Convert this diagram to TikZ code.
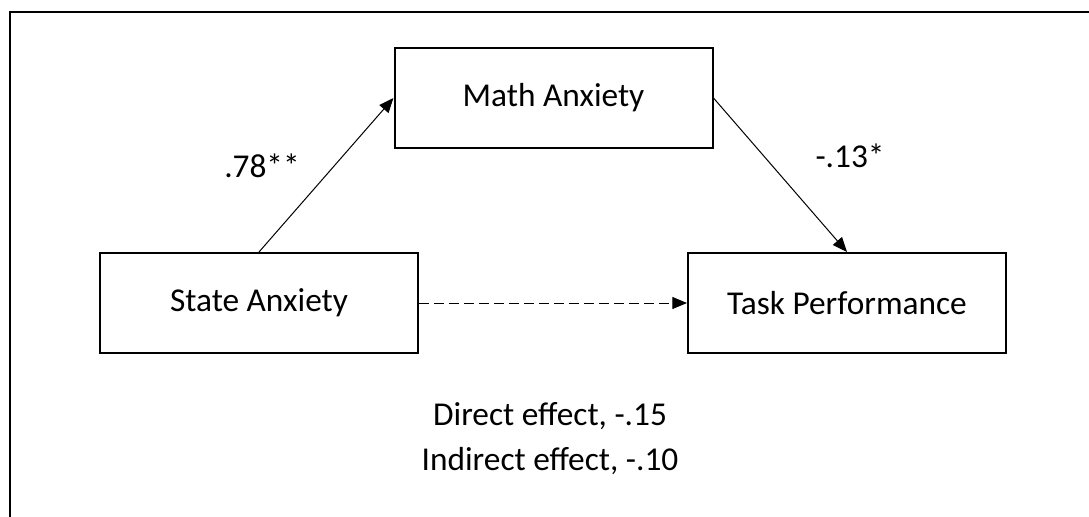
\documentclass[tikz,border=0pt]{standalone}
\usepackage{fontspec}
\setmainfont{Carlito}
\usetikzlibrary{arrows.meta}

\begin{document}
\begin{tikzpicture}[x=0.75pt,y=-0.75pt,>={Triangle[length=11pt,width=9pt]},
	every node/.style={font=\fontsize{25}{30}\selectfont}]
	\tikzstyle{var} = [rectangle,draw,line width=1.5pt,minimum width=238.5pt,minimum height=75pt,inner sep=0pt]
	\tikzstyle{lbl} = [inner sep=0pt,anchor=base]
	
	\useasboundingbox (0,0) rectangle (1089,517);
	\draw[line width=1.5pt] (9.5,517) -- (9.5,12) -- (1089,12);
	
	\node[var](ma) at (553.5,98){Math Anxiety};
	\node[var](sa) at (259,303){State Anxiety};
	\node[var](tp) at (847,303){Task Performance};
	
	\path[->,line width=0.75pt] (sa.north) edge (ma.west)
	(ma.east) edge (tp.north);
	\path[->,line width=0.75pt,dash pattern=on 7.5pt off 3.75pt] (sa.east) edge (tp.west);
	
	\node[lbl](a) at (262,177) {.78**};
	\node[lbl](b) at (850,167) {-.13*};
	\node[lbl](de) at (550,425) {Direct effect, -.15};
	\node[lbl](ie) at (550,470) {Indirect effect, -.10};
\end{tikzpicture}
\end{document}
